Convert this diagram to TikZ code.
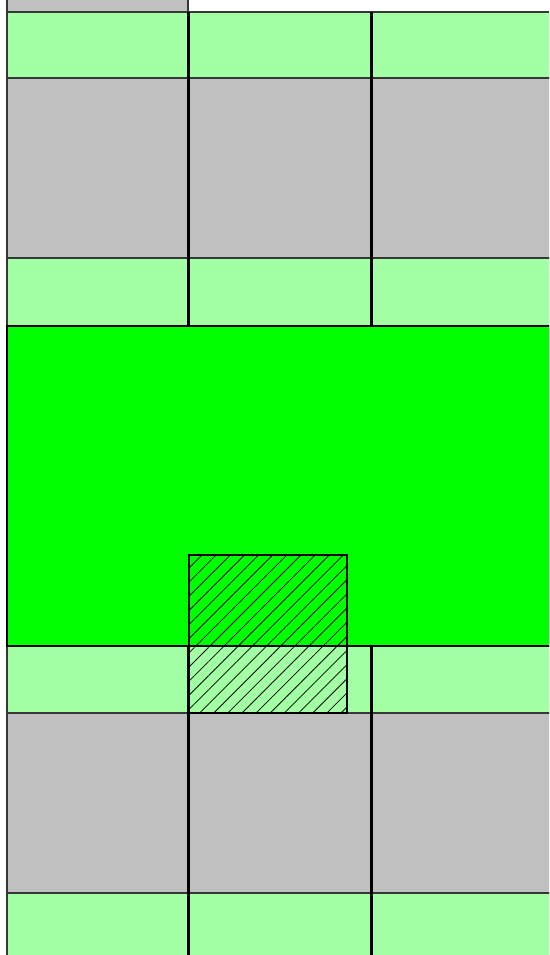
\documentclass[tikz,border=0pt]{standalone}
\usetikzlibrary{patterns.meta}
\definecolor{lgreen}{RGB}{163,255,163}
\definecolor{cgray}{RGB}{192,192,192}
\definecolor{bgreen}{RGB}{0,255,0}
\definecolor{edgec}{RGB}{55,55,55}
\begin{document}
\begin{tikzpicture}[x=1pt,y=-1pt,
  cellbox/.style={draw=edgec,line width=1.3pt},
  wall/.style={draw=black,line width=3pt},
  hatchbox/.style={draw=black,line width=1.6pt,pattern={Lines[angle=45,distance=10pt,line width=0.8pt]},pattern color=black}]
\useasboundingbox (0,0) rectangle (549,955);
\fill[white] (0,0) rectangle (549,955);
\clip (0,0) rectangle (549,955);
% top label box (cut off)
\filldraw[cellbox,fill=cgray] (7,-10) rectangle (188,12);
% cells
\foreach \a/\b in {7/188,188/371,371/565}{
  \filldraw[cellbox,fill=lgreen] (\a,12) rectangle (\b,78);
  \filldraw[cellbox,fill=cgray] (\a,78) rectangle (\b,258);
  \filldraw[cellbox,fill=lgreen] (\a,258) rectangle (\b,326);
  \filldraw[cellbox,fill=lgreen] (\a,646) rectangle (\b,713);
  \filldraw[cellbox,fill=cgray] (\a,713) rectangle (\b,893);
  \filldraw[cellbox,fill=lgreen] (\a,893) rectangle (\b,970);
}
% big green area
\filldraw[fill=bgreen,draw=black,line width=2.6pt] (7,326) rectangle (565,646);
% thick walls
\draw[wall] (188,12) -- (188,326);
\draw[wall] (371,12) -- (371,326);
\draw[wall] (188,646) -- (188,970);
\draw[wall] (371,646) -- (371,970);
% hatched area
\draw[hatchbox] (189,555) rectangle (347,713);
\end{tikzpicture}
\end{document}
